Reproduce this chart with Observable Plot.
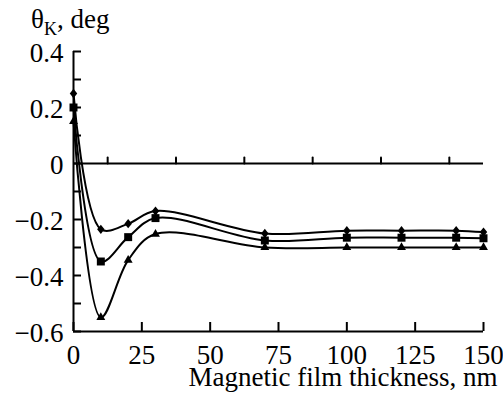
<!DOCTYPE html>
<html>
<head>
<meta charset="utf-8">
<script src="https://cdn.jsdelivr.net/npm/d3@7"></script>
<script src="https://cdn.jsdelivr.net/npm/@observablehq/plot@0.6"></script>
<style>
  html, body { margin: 0; padding: 0; background: #fff; }
  #wrap { position: relative; width: 503px; height: 399px; font-family: "Liberation Serif", serif; }
  #title { position: absolute; left: 31px; top: 6px; font-size: 27px; line-height: 27px; white-space: nowrap; color: #000; }
  #title .sub { font-size: 18px; position: relative; top: 7px; }
  svg text { font-family: "Liberation Serif", serif; }
</style>
</head>
<body>
<div id="wrap"><div id="title">θ<span class="sub">K</span>, deg</div></div>
<script>
const thickness = [0, 10, 20, 30, 70, 100, 120, 140, 150];
const diamondSeries = [0.25, -0.235, -0.215, -0.17, -0.25, -0.24, -0.24, -0.24, -0.245];
const squareSeries = [0.20, -0.35, -0.263, -0.195, -0.275, -0.265, -0.265, -0.265, -0.267];
const triangleSeries = [0.15, -0.55, -0.345, -0.252, -0.30, -0.30, -0.30, -0.30, -0.30];

const xTicks = [0, 25, 50, 75, 100, 125, 150];
const xMinorTicks = [12.5, 37.5, 62.5, 87.5, 112.5, 137.5];
const yTicks = [0.4, 0.2, 0, -0.2, -0.4, -0.6];
const yMinorTicks = [0.4, 0.3, 0.2, 0.1, 0, -0.1, -0.2, -0.3, -0.4, -0.5, -0.6];
const xLabel = "Magnetic film thickness, nm";

const toRows = (vals, series) => thickness.map((x, i) => ({x, y: vals[i], series}));
const rows = [
  ...toRows(diamondSeries, "diamond"),
  ...toRows(squareSeries, "square"),
  ...toRows(triangleSeries, "triangle")
];

const tallDiamond = {
  draw(context, size) {
    const w = Math.sqrt(size) * 0.5;
    const h = w * 1.25;
    context.moveTo(0, -h);
    context.lineTo(w, 0);
    context.lineTo(0, h);
    context.lineTo(-w, 0);
    context.closePath();
  }
};
const tickUp = { draw(context, l) { context.moveTo(0, 0); context.lineTo(0, -l); } };

const fmt = d => d === 0 ? "0" : (d < 0 ? "\u2212" + Math.abs(d).toFixed(1) : d.toFixed(1));
const FF = "Liberation Serif";
const FS = 27;

const chart = Plot.plot({
  width: 503,
  height: 399,
  marginTop: 51,
  marginRight: 20,
  marginBottom: 68,
  marginLeft: 73,
  style: { fontFamily: FF, fontSize: FS + "px", background: "#fff", color: "#000", overflow: "visible" },
  x: { domain: [0, 150] },
  y: { domain: [-0.6, 0.4] },
  marks: [
    Plot.axisY(yMinorTicks, { tickSize: -8, tickFormat: () => "", label: null, strokeWidth: 2 }),
    Plot.axisY(yTicks, { tickSize: 0, tickPadding: 10, tickFormat: fmt, label: null, fontSize: FS, fontFamily: FF, dy: 2 }),
    Plot.axisX(xTicks, { tickSize: -9, tickFormat: () => "", label: null, strokeWidth: 2 }),
    Plot.axisX(xTicks, { tickSize: 0, tickPadding: 13, tickFormat: d => String(d), label: null, fontSize: FS, fontFamily: FF }),
    Plot.ruleX([0], { stroke: "#000", strokeWidth: 2 }),
    Plot.ruleY([-0.6], { stroke: "#000", strokeWidth: 2 }),
    Plot.ruleY([0], { stroke: "#000", strokeWidth: 2 }),
    Plot.vector(xMinorTicks, { x: d => d, y: () => 0, length: 6, anchor: "start", shape: tickUp, stroke: "#000", strokeWidth: 2 }),
    Plot.line(rows, { x: "x", y: "y", z: "series", curve: "catmull-rom", stroke: "#000", strokeWidth: 2 }),
    Plot.dot(rows.filter(d => d.series === "diamond"), { x: "x", y: "y", symbol: tallDiamond, r: 4.2, fill: "#000", stroke: "none" }),
    Plot.dot(rows.filter(d => d.series === "square"), { x: "x", y: "y", symbol: "square", r: 4.5, fill: "#000", stroke: "none" }),
    Plot.dot(rows.filter(d => d.series === "triangle"), { x: "x", y: "y", symbol: "triangle", r: 3.3, fill: "#000", stroke: "none" }),
    Plot.text([xLabel], { text: d => d, frameAnchor: "bottom-right", textAnchor: "end", lineAnchor: "middle", dx: 14, dy: 46, fontSize: FS, fontFamily: FF })
  ]
});
document.getElementById("wrap").prepend(chart);
</script>
</body>
</html>
